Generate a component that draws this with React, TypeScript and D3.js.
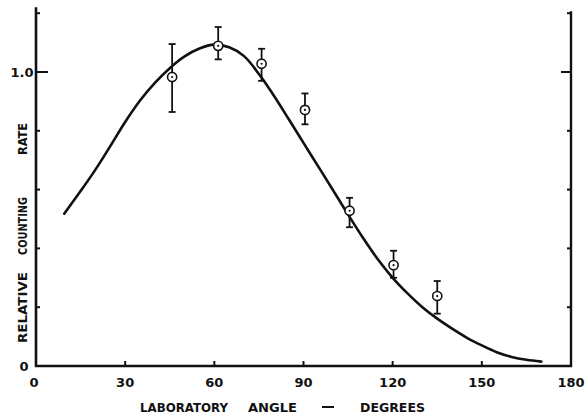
import React from "react";
import * as d3 from "d3";

const xTicks = [30, 60, 90, 120, 150];
const xTickLabels = ["0", "30", "60", "90", "120", "150", "180"];
const xLabelValues = [0, 30, 60, 90, 120, 150, 180];
const yTicks = [0.2, 0.4, 0.6, 0.8, 1.0, 1.2];

const curveAngles = [9.5, 15, 20, 25, 30, 35, 40, 45, 50, 55, 60, 65, 70, 75, 80, 85, 90, 95, 100, 105, 110, 115, 120, 125, 130, 135, 140, 145, 150, 155, 160, 165, 170];
const curveValues = [0.518, 0.595, 0.668, 0.748, 0.830, 0.903, 0.963, 1.013, 1.053, 1.080, 1.093, 1.084, 1.054, 0.993, 0.920, 0.840, 0.759, 0.678, 0.597, 0.515, 0.436, 0.363, 0.300, 0.247, 0.200, 0.161, 0.127, 0.096, 0.070, 0.047, 0.031, 0.021, 0.015];

const pointAngles = [45.8, 61.3, 75.9, 90.5, 105.5, 120.3, 135.0];
const pointValues = [0.983, 1.089, 1.028, 0.871, 0.528, 0.343, 0.238];
const errHigh = [1.095, 1.153, 1.079, 0.927, 0.572, 0.392, 0.289];
const errLow = [0.864, 1.043, 0.97, 0.822, 0.472, 0.3, 0.178];

export default function App() {
  const x = d3.scaleLinear().domain([0, 180]).range([36, 571]);
  const y = d3.scaleLinear().domain([0, 1]).range([366, 72]);
  const line = d3
    .line<number>()
    .x((_, i) => x(curveAngles[i]))
    .y((d) => y(d))
    .curve(d3.curveCatmullRom.alpha(0.5));
  const font = "'DejaVu Sans', sans-serif";
  const ink = "#111";
  return (
    <svg
      width={585}
      height={417}
      style={{ position: "absolute", left: 0, top: 0, background: "#fff" }}
      fontFamily={font}
      fontWeight="bold"
    >
      <rect width={585} height={417} fill="#fff" />
      {/* axes */}
      <line x1={x(0)} x2={x(0)} y1={y(0) + 1} y2={y(1.22)} stroke={ink} strokeWidth={2.6} />
      <line x1={x(180)} x2={x(180)} y1={y(0) + 1} y2={y(1.2) - 2} stroke={ink} strokeWidth={2.4} />
      <line x1={x(0) - 1} x2={x(180) + 1} y1={y(0)} y2={y(0)} stroke={ink} strokeWidth={2.6} />
      {yTicks.map((t) => (
        <g key={"yt" + t}>
          <line x1={x(0)} x2={x(0) + (t === 1 ? 12 : 4)} y1={y(t)} y2={y(t)} stroke={ink} strokeWidth={2} />
          <line x1={x(180)} x2={x(180) - (t === 1 ? 10 : 4)} y1={y(t)} y2={y(t)} stroke={ink} strokeWidth={2} />
        </g>
      ))}
      {xTicks.map((t) => (
        <line key={"xt" + t} x1={x(t)} x2={x(t)} y1={y(0)} y2={y(0) - 5} stroke={ink} strokeWidth={2} />
      ))}
      {/* tick labels */}
      {xLabelValues.map((v, i) => (
        <text key={"xl" + v} x={x(v) - (v === 0 ? 2 : 0)} y={387} textAnchor="middle" fontSize={13} fill={ink}>
          {xTickLabels[i]}
        </text>
      ))}
      <text x={24} y={y(0) + 5} textAnchor="middle" fontSize={13} fill={ink}>0</text>
      <text x={22} y={y(1) + 5} textAnchor="middle" fontSize={13} fill={ink}>1.0</text>
      {/* axis titles */}
      <text x={140} y={412} fontSize={13} fill={ink} textLength={88} lengthAdjust="spacingAndGlyphs">LABORATORY</text>
      <text x={248} y={412} fontSize={13} fill={ink} textLength={49} lengthAdjust="spacingAndGlyphs">ANGLE</text>
      <line x1={322} x2={334} y1={407} y2={407} stroke={ink} strokeWidth={2} />
      <text x={360} y={412} fontSize={13} fill={ink} textLength={65} lengthAdjust="spacingAndGlyphs">DEGREES</text>
      <g transform="translate(27,0) rotate(-90)">
        <text x={-343} y={0} fontSize={12.5} fill={ink} textLength={71} lengthAdjust="spacingAndGlyphs">RELATIVE</text>
        <text x={-255} y={0} fontSize={12.5} fill={ink} textLength={58} lengthAdjust="spacingAndGlyphs">COUNTING</text>
        <text x={-155} y={0} fontSize={12.5} fill={ink} textLength={32} lengthAdjust="spacingAndGlyphs">RATE</text>
      </g>
      {/* curve */}
      <path d={line(curveValues) || ""} fill="none" stroke={ink} strokeWidth={2.6} strokeLinecap="round" />
      {/* data points */}
      {pointAngles.map((a, i) => {
        const cx = x(a);
        const cy = y(pointValues[i]);
        return (
          <g key={"p" + i}>
            <line x1={cx} x2={cx} y1={y(errHigh[i])} y2={cy - 5} stroke={ink} strokeWidth={1.8} />
            <line x1={cx} x2={cx} y1={cy + 5} y2={y(errLow[i])} stroke={ink} strokeWidth={1.8} />
            <line x1={cx - 3.5} x2={cx + 3.5} y1={y(errHigh[i])} y2={y(errHigh[i])} stroke={ink} strokeWidth={1.8} />
            <line x1={cx - 3.5} x2={cx + 3.5} y1={y(errLow[i])} y2={y(errLow[i])} stroke={ink} strokeWidth={1.8} />
            <circle cx={cx} cy={cy} r={4.6} fill="#fff" stroke={ink} strokeWidth={1.6} />
            <circle cx={cx} cy={cy} r={1.1} fill={ink} />
          </g>
        );
      })}
    </svg>
  );
}
